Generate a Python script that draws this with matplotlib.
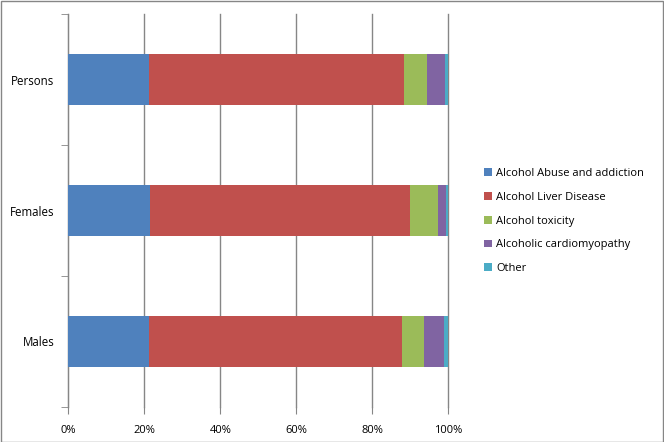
import numpy as np
from matplotlib import pyplot as plt
from matplotlib.patches import Patch

# data (percent of deaths), bottom to top
groups = ['Males', 'Females', 'Persons']
causes = ['Alcohol Abuse and addiction', 'Alcohol Liver Disease', 'Alcohol toxicity',
          'Alcoholic cardiomyopathy', 'Other']
abuse = [21.2, 21.4, 21.2]
liver = [66.6, 68.5, 67.1]
toxicity = [5.7, 7.4, 6.1]
cardio = [5.3, 2.0, 4.7]
other = [1.2, 0.7, 0.9]
colors = ['#4F81BD', '#C0504D', '#9BBB59', '#8064A2', '#4BACC6']

plt.rcParams['font.family'] = ['Open Sans', 'DejaVu Sans']

fig = plt.figure(figsize=(6.64, 4.42), dpi=100)
ax = fig.add_axes([68.3 / 664, 35 / 442, 380 / 664, 393 / 442])

y = np.arange(len(groups))
left = np.zeros(len(groups))
for vals, c in zip([abuse, liver, toxicity, cardio, other], colors):
    ax.barh(y, vals, left=left, height=0.395, color=c, zorder=3)
    left += np.array(vals)

ax.set_xlim(0, 100)
ax.set_ylim(-0.5, 2.5)
ax.set_xticks(range(0, 101, 20))
ax.set_xticklabels(['%d%%' % v for v in range(0, 101, 20)])
ax.xaxis.grid(True, color='#868686', linewidth=1, zorder=0)
for gl in ax.get_xgridlines():
    gl.set_clip_on(False)
ax.set_yticks(y)
ax.set_yticklabels(groups, fontsize=8.3)
ax.set_yticks([-0.5, 0.5, 1.5, 2.5], minor=True)
ax.tick_params(axis='y', which='major', length=0, pad=10)
ax.tick_params(axis='y', which='minor', length=5, color='#868686')
ax.tick_params(axis='x', length=5, color='#868686', pad=8, labelsize=8)
for s in ['top', 'right', 'bottom']:
    ax.spines[s].set_visible(False)
ax.spines['left'].set_color('#868686')

handles = [Patch(facecolor=c, edgecolor='none') for c in colors]
fig.legend(handles, causes, loc='upper left', bbox_to_anchor=(474 / 664, 1 - 158 / 442),
           frameon=False, fontsize=8, handlelength=0.7, handleheight=0.7,
           handletextpad=0.4, labelspacing=1.15)

# outer border
fig.patches.append(plt.Rectangle((0.001, 0.001), 0.998, 0.997, transform=fig.transFigure,
                                 fill=False, edgecolor='#868686', linewidth=1))

plt.savefig('out.png', dpi=100)
